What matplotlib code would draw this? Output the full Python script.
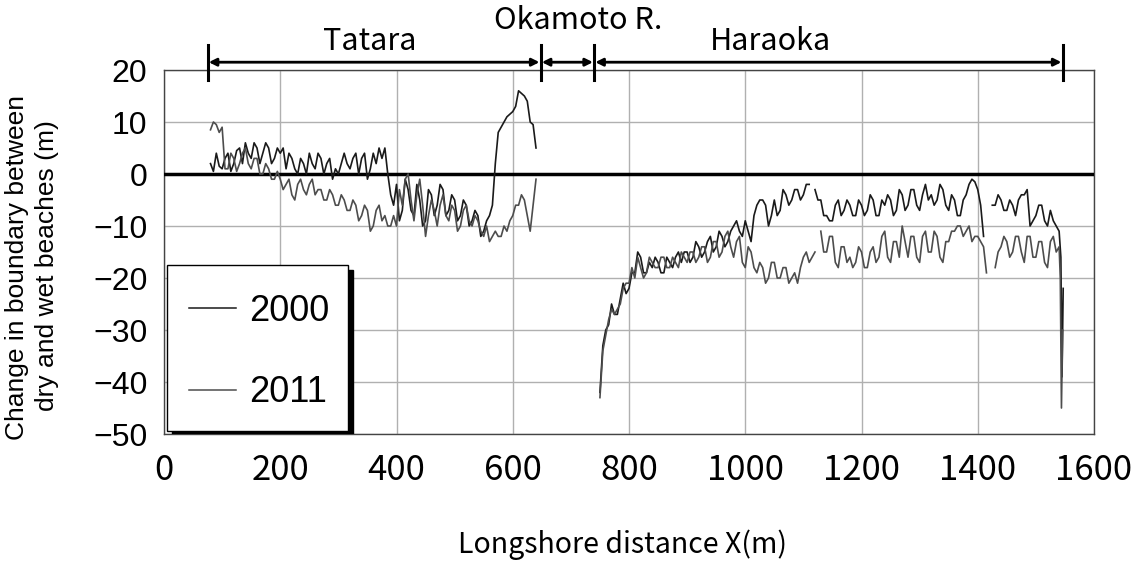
import numpy as np
import matplotlib
matplotlib.use("Agg")
import matplotlib.pyplot as plt
from matplotlib.patches import Rectangle
from matplotlib.lines import Line2D

nan = np.nan

# ---- data (5 m spacing) ----
tatara_x = list(range(80, 645, 5))
tatara_2000 = [2, 0.5, 4, 1.5, 1, 3, 4, 0.5, 2, 4.5,
               5, 2, 6, 4, 3, 6, 5, 2, 4, 6,
               5, 2, 3, 5, 4, 5, 1, 4, 3, 1,
               0, 3, 2, 0, 4, 2, 1, 4, 3, 0,
               2, 3, -1, 1, 0, 2, 4, 2, 1, 3,
               4, 0, 3, 4, -1, 1, 4, 2, 5, 3,
               5, 0, -4, -6, -2, -9, -7, -1, -3, -7,
               -8, -2, -5, -10, -9, -3, -4, -8, -6, -2,
               -3, -8, -7, -4, -5, -9, -8, -5, -6, -10,
               -9, -7, -8, -12, -11, -9, -8, -6, 2, 8,
               9, 10, 11, 11.5, 12, 13, 16, 15.5, 15, 14,
               10, 9.5, 5]
tatara_2011 = [8.5, 10, 9.5, 8, 9, 1, 1, 4, 3, 0.5,
               2, 4, 5, 2, 1, 3, 3, 0, 0, 2,
               1, -1, -1, 0.5, -1, -3, -2, -1, -4, -5,
               -2, -1, -3, -4, -2, -1, -4, -3, -3, -5,
               -5, -3, -4, -6, -6, -4, -5, -7, -7, -5,
               -6, -9, -8, -6, -7, -11, -10, -7, -6, -9,
               -8, -10, -10, -8, -10, -3, -6, -1, 0, -5,
               -9, -4, -1, -6, -12, -8, -5, -7, -10, -6,
               -4, -8, -9, -6, -7, -11, -10, -7, -6, -9,
               -10, -8, -9, -11, -12, -10, -13, -12, -11, -12,
               -12, -10, -11, -9, -8, -6, -6, -4, -5, -8,
               -11, -6, -1]

haraoka_x_2000 = list(range(750, 1545, 5)) + [1543, 1545, 1547]
haraoka_2000 = [-42, -33, -30, -29, -25, -27, -27, -24, -21, -23,
                -22, -19, -19, -15, -16, -19, -19, -17, -18, -16,
                -17, -19, -19, -16, -17, -18, -16, -15, -17, -15,
                -15, -17, -16, -13, -14, -16, -15, -13, -12, -15,
                -14, -11, -12, -14, -13, -11, -10, -9, -11, -12,
                -9, -11, -13, -8, -6, -5, -5, -6, -10, -8,
                -5, -8, -7, -3, -4, -6, -5, -3, -3, -5,
                -4, -2, -2, nan, -3, -5, -5, -8, -8, -9,
                -9, -6, -5, -8, -7, -5, -6, -8, -8, -5,
                -6, -8, -7, -4, -5, -8, -8, -5, -6, -4,
                -5, -8, -7, -3, -4, -7, -6, -3, -3, -6,
                -7, -4, -2, -5, -4, -6, -5, -2, -3, -6,
                -7, -4, -5, -8, -8, -5, -4, -2, -1, -1.5,
                -3, -6, -12, nan, nan, -6, -6, -4, -5, -7,
                -7, -5, -6, -8, -5, -4, -4, -3, -10, -9,
                -8, -6, -6, -9, -10, -7, -9, -10, -11,
                -16, -39, -22]

haraoka_x_2011 = list(range(750, 1545, 5)) + [1542, 1544, 1546]
haraoka_2011 = [-43, -34, -31, -28, -26, -27, -26, -25, -22, -21,
                -21, -18, -20, -16, -18, -20, -19, -16, -17, -18,
                -18, -16, -16, -18, -18, -16, -17, -18, -15, -16,
                -17, -15, -15, -17, -16, -14, -14, -17, -16, -13,
                -13, -16, -15, -12, -11, -14, -16, -13, -12, -17,
                -18, -14, -15, -18, -19, -17, -18, -21, -20, -17,
                -17, -20, -20, -18, -18, -21, -20, -19, -21, -18,
                -16, -15, -17, -16, -15, nan, -11, -15, -15, -12,
                -12, -17, -18, -14, -14, -17, -16, -18, -17, -14,
                -15, -18, -18, -15, -14, -17, -16, -12, -11, -16,
                -17, -13, -13, -16, -10, -13, -16, -12, -12, -16,
                -17, -12, -11, -15, -15, -11, -12, -16, -17, -13,
                -13, -11, -11, -10, -10, -12, -11, -10, -13, -12,
                -12, -13, -14, -19, nan, nan, -18, -15, -14, -12,
                -13, -16, -15, -12, -12, -15, -17, -12, -12, -16,
                -16, -13, -13, -17, -18, -13, -12, -15, -14,
                -20, -45, -30]

xticks = [0, 200, 400, 600, 800, 1000, 1200, 1400, 1600]
yticks = [20, 10, 0, -10, -20, -30, -40, -50]
ytick_labels = ["20", "10", "0", "\u221210", "\u221220", "\u221230", "\u221240", "\u221250"]

sections = ["Tatara", "Okamoto R.", "Haraoka"]
section_bounds = [75, 648, 740, 1546]
section_label_x = [354, 712, 1044]
section_label_y = [25.5, 29.5, 25.5]

# ---- figure ----
fig = plt.figure(figsize=(11.38, 5.67), dpi=100)
ax = fig.add_axes([164 / 1138, 1 - 434 / 567, (1094 - 164) / 1138, (434 - 70) / 567])

ax.set_xlim(0, 1600)
ax.set_ylim(-50, 20)
ax.set_xticks(xticks)
ax.set_yticks(yticks)
ax.set_yticklabels(ytick_labels, fontfamily="Liberation Sans", fontsize=23)
ax.set_xticklabels([str(t) for t in xticks], fontfamily="Noto Sans CJK JP", fontsize=25)
ax.tick_params(axis="both", length=0)
ax.tick_params(axis="x", pad=14)
ax.tick_params(axis="y", pad=12)
ax.grid(True, color="#b0b0b0", linewidth=1.0)
ax.set_axisbelow(True)
for s in ax.spines.values():
    s.set_color("#444444")
    s.set_linewidth(1.0)

ax.axhline(0, color="black", linewidth=2.5, zorder=3)

c2000 = "#1a1a1a"
c2011 = "#4d4d4d"
lw = 1.2
ax.plot(tatara_x, tatara_2000, color=c2000, linewidth=lw, zorder=4)
ax.plot(haraoka_x_2000, haraoka_2000, color=c2000, linewidth=lw, zorder=4)
ax.plot(tatara_x, tatara_2011, color=c2011, linewidth=lw, zorder=4)
ax.plot(haraoka_x_2011, haraoka_2011, color=c2011, linewidth=lw, zorder=4)

# ---- section annotations above axes ----
ybar = 21.5
for xb in section_bounds:
    ax.plot([xb, xb], [18.1, 24.8], color="black", linewidth=2.2, clip_on=False, zorder=5)
for i in range(len(sections)):
    ax.annotate("", xy=(section_bounds[i + 1] - 2, ybar), xytext=(section_bounds[i] + 2, ybar),
                arrowprops=dict(arrowstyle="<|-|>", color="black", lw=2.0,
                                mutation_scale=11, shrinkA=0, shrinkB=0),
                annotation_clip=False, zorder=5)
    ax.text(section_label_x[i], section_label_y[i], sections[i], ha="center", va="center",
            fontsize=22, fontfamily="Noto Sans CJK JP", clip_on=False)

# ---- legend box with shadow ----
def fx(px):
    return (px - 164) / (1094 - 164)

def fy(py):
    return (434 - py) / (434 - 70)

ax.add_patch(Rectangle((fx(172), fy(436)), fx(353) - fx(172), fy(270) - fy(436),
                       transform=ax.transAxes, facecolor="black", edgecolor="black", zorder=6))
ax.add_patch(Rectangle((fx(167), fy(431)), fx(348) - fx(167), fy(265) - fy(431),
                       transform=ax.transAxes, facecolor="white", edgecolor="black",
                       linewidth=1.0, zorder=7))
handles = [Line2D([], [], color=c2000, linewidth=1.1), Line2D([], [], color=c2011, linewidth=1.1)]
leg = ax.legend(handles, ["2000", "2011"], loc="center", bbox_to_anchor=(fx(259), fy(352)),
                frameon=False, handlelength=1.3, handletextpad=0.35,
                labelspacing=1.3, prop={"family": "Liberation Sans", "size": 26})
leg.set_zorder(8)

# ---- axis labels ----
fig.text(622 / 1138, 1 - 545 / 567, "Longshore distance X(m)", ha="center", va="center",
         fontsize=20.5, fontfamily="Noto Sans CJK JP")
fig.text(17 / 1138, 1 - 268 / 567, "Change in boundary between", ha="center", va="center",
         rotation=90, fontsize=19, fontfamily="Liberation Sans")
fig.text(47 / 1138, 1 - 266 / 567, "dry and wet beaches (m)", ha="center", va="center",
         rotation=90, fontsize=19, fontfamily="Liberation Sans")

fig.savefig("out.png", dpi=100)
